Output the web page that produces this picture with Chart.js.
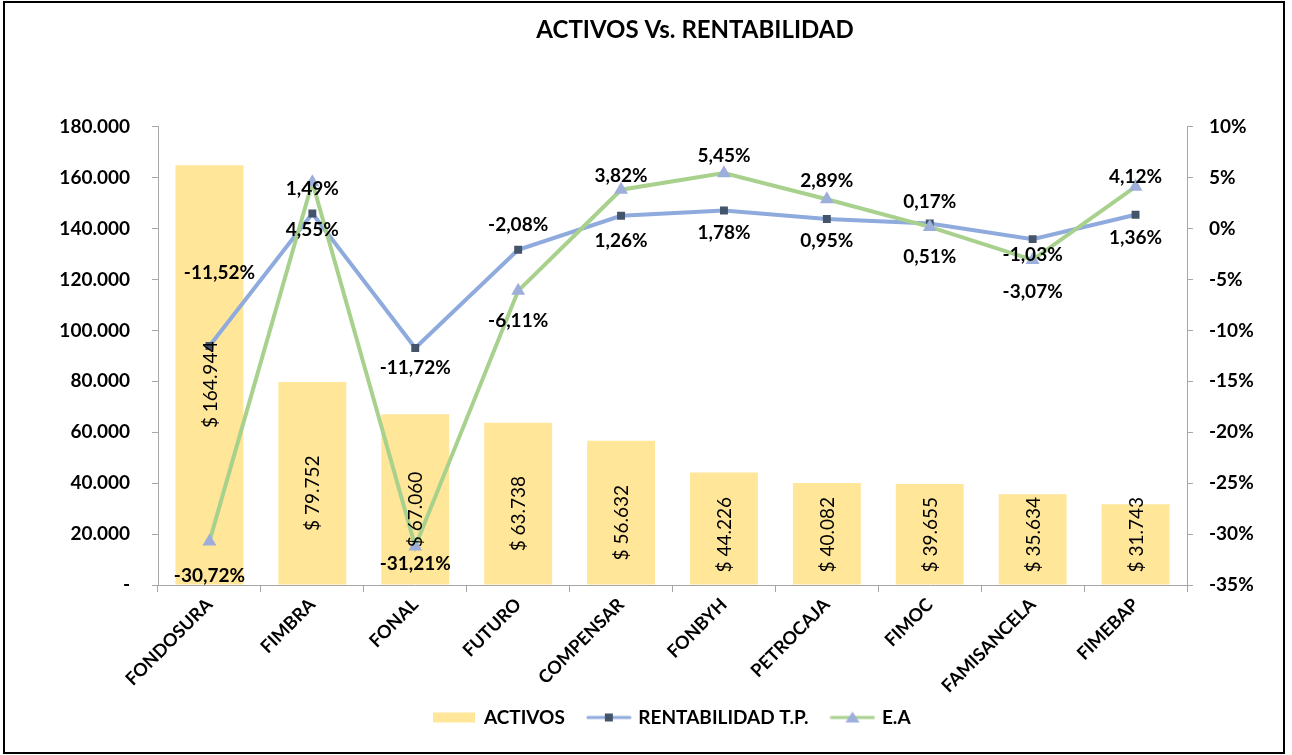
<!DOCTYPE html>
<html><head><meta charset="utf-8">
<script src="https://cdn.jsdelivr.net/npm/chart.js@4.4.0/dist/chart.umd.min.js"></script>
<style>
html,body{margin:0;padding:0;background:#fff;}
#wrap{position:relative;width:1292px;height:755px;}
#frame{position:absolute;left:3px;top:1px;width:1282px;height:753px;border:2px solid #000;box-sizing:border-box;pointer-events:none;}
#c{position:absolute;left:0;top:0;}
</style></head>
<body>
<div id="wrap"><canvas id="c" width="1292" height="755"></canvas><div id="frame"></div></div>
<script>
const categories = ['FONDOSURA','FIMBRA','FONAL','FUTURO','COMPENSAR','FONBYH','PETROCAJA','FIMOC','FAMISANCELA','FIMEBAP'];
const activos = [164944, 79752, 67060, 63738, 56632, 44226, 40082, 39655, 35634, 31743];
const rentabilidadTP = [-11.52, 1.49, -11.72, -2.08, 1.26, 1.78, 0.95, 0.51, -1.03, 1.36];
const ea = [-30.72, 4.55, -31.21, -6.11, 3.82, 5.45, 2.89, 0.17, -3.07, 4.12];
const leftTicks = [0, 20000, 40000, 60000, 80000, 100000, 120000, 140000, 160000, 180000];
const rightTicks = [-35, -30, -25, -20, -15, -10, -5, 0, 5, 10];

const FONT = 'Lato, "Open Sans", sans-serif';
const BAR = '#FFE699', BLUE = '#8FAADC', GREEN = '#A9D18E', SQ = '#44546A', TRI = '#9DAEDB';

// label offsets (styling only): [dx, dy] from the point
const blueOff = [[10,-73],[0,-25],[0,20],[0,-25],[0,25],[0,22],[0,22],[0,33],[0,16],[0,23]];
const greenOff = [[0,34],[0,48],[0,17],[0,30],[0,-14],[0,-17],[0,-18],[0,-25],[0,32],[0,-10]];

function fmtPct(v){ return v.toFixed(2).replace('.', ',') + '%'; }
function fmtThousands(v){ return v.toString().replace(/\B(?=(\d{3})+(?!\d))/g, '.'); }

function legendIcon(kind){
  const c = document.createElement('canvas');
  c.width = kind === 'bar' ? 42 : 46; c.height = 14;
  const g = c.getContext('2d');
  if (kind === 'bar'){ g.fillStyle = BAR; g.fillRect(0,2,42,10); }
  else {
    g.strokeStyle = kind === 'sq' ? BLUE : GREEN; g.lineWidth = 3; g.lineCap='round';
    g.beginPath(); g.moveTo(2,7); g.lineTo(44,7); g.stroke();
    if (kind === 'sq'){ g.fillStyle = SQ; g.fillRect(19,3,8,8); }
    else { g.fillStyle = TRI; g.beginPath(); g.moveTo(23,1); g.lineTo(30,12); g.lineTo(16,12); g.closePath(); g.fill(); }
  }
  return c;
}
const icons = [legendIcon('bar'), legendIcon('sq'), legendIcon('tri')];

const labelPlugin = {
  id: 'valueLabels',
  afterLayout(chart){
    const t = chart.titleBlock;
    if (t){ t.left += 49; t.right += 49; }
  },
  afterDatasetsDraw(chart){
    const ctx = chart.ctx;
    ctx.save();
    const bm = chart.getDatasetMeta(0);
    ctx.font = '19px ' + FONT;
    ctx.fillStyle = '#000';
    ctx.textAlign = 'center'; ctx.textBaseline = 'middle';
    bm.data.forEach((el, i) => {
      const txt = '$ ' + fmtThousands(activos[i]);
      const w = ctx.measureText(txt).width;
      let cy = (el.y + el.base) / 2 + 10;
      if (cy + w/2 > el.base - 12) cy = el.base - 12 - w/2;
      ctx.save(); ctx.translate(el.x, cy); ctx.rotate(-Math.PI/2); ctx.fillText(txt, 0, 1); ctx.restore();
    });
    ctx.font = 'bold 19px ' + FONT;
    [[1, rentabilidadTP, blueOff],[2, ea, greenOff]].forEach(([di, vals, off]) => {
      chart.getDatasetMeta(di).data.forEach((el, i) => {
        ctx.fillText(fmtPct(vals[i]), el.x + off[i][0], el.y + off[i][1]);
      });
    });
    ctx.restore();
  }
};

new Chart(document.getElementById('c'), {
  type: 'bar',
  data: {
    labels: categories,
    datasets: [
      { type:'bar', label:'ACTIVOS', data: activos, backgroundColor: BAR, yAxisID:'y', barPercentage:0.66, categoryPercentage:1, order:3 },
      { type:'line', label:'RENTABILIDAD T.P.', data: rentabilidadTP, borderColor: BLUE, borderWidth:4, pointStyle:'rect', pointRadius:5.6, pointBackgroundColor: SQ, pointBorderColor: SQ, pointBorderWidth:0, yAxisID:'y1', tension:0, order:2 },
      { type:'line', label:'E.A', data: ea, borderColor: GREEN, borderWidth:4, pointStyle:'triangle', pointRadius:8, pointBackgroundColor: TRI, pointBorderColor: TRI, pointBorderWidth:0, yAxisID:'y1', tension:0, order:1 }
    ]
  },
  options: {
    responsive:false, animation:false,
    layout:{ padding:{ left:0, right:0, top:0, bottom:18 } },
    plugins:{
      title:{ display:true, text:'ACTIVOS Vs. RENTABILIDAD', color:'#000', font:{ family:FONT, size:24, weight:'bold' }, padding:{ top:16, bottom:82 } },
      legend:{ position:'bottom', fullSize:false, labels:{ usePointStyle:true, pointStyleWidth:40, boxHeight:14, color:'#000', font:{ family:FONT, size:19, weight:'bold' }, padding:24,
        generateLabels(chart){ return chart.data.datasets.map((d,i)=>({ text:d.label, pointStyle:icons[i], fillStyle:'#fff', strokeStyle:'#fff', lineWidth:0, datasetIndex:i, hidden:false })); } } },
      tooltip:{ enabled:false }
    },
    scales:{
      x:{ afterFit(s){ s.height = 99; s._computeLabelArea = () => undefined; },
        grid:{ display:true, drawOnChartArea:false, offset:true, tickLength:7, color:'#A6A6A6' }, border:{ color:'#A6A6A6', width:1 },
        ticks:{ color:'#000', font:{ family:FONT, size:18, weight:'bold' }, minRotation:45, maxRotation:45, padding:2 } },
      y:{ position:'left', min:0, max:180000, afterFit(s){ s.width = 158; },
        afterBuildTicks(s){ s.ticks = leftTicks.map(v=>({value:v})); },
        grid:{ drawOnChartArea:false, tickLength:6, color:'#A6A6A6' }, border:{ color:'#A6A6A6' },
        ticks:{ color:'#000', padding:22, font:{ family:FONT, size:19, weight:'bold' }, callback:(v)=> v === 0 ? '-' : fmtThousands(v) } },
      y1:{ position:'right', min:-35, max:10, afterFit(s){ s.width = 105; },
        afterBuildTicks(s){ s.ticks = rightTicks.map(v=>({value:v})); },
        grid:{ drawOnChartArea:false, tickLength:6, color:'#A6A6A6' }, border:{ color:'#A6A6A6' },
        ticks:{ color:'#000', padding:16, font:{ family:FONT, size:19, weight:'bold' }, callback:(v)=> v + '%' } }
    }
  },
  plugins:[labelPlugin]
});
</script>
</body></html>
